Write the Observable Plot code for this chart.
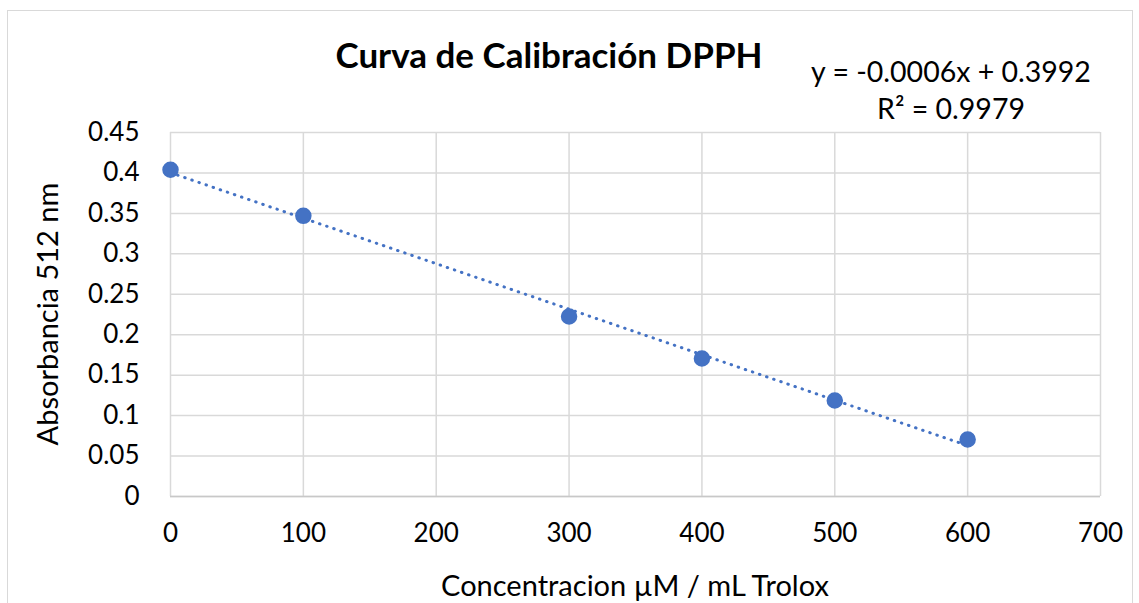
<!DOCTYPE html>
<html>
<head>
<meta charset="utf-8">
<script src="https://cdn.jsdelivr.net/npm/d3@7"></script>
<script src="https://cdn.jsdelivr.net/npm/@observablehq/plot@0.6"></script>
<style>
  html, body { margin: 0; padding: 0; background: #fff; }
  #chart { position: relative; width: 1139px; height: 603px; }
  #frame { position: absolute; left: 7px; top: 10px; width: 1126px; height: 600px; border: 1.5px solid #d9d9d9; box-sizing: border-box; pointer-events: none; }
</style>
</head>
<body>
<div id="chart"><div id="frame"></div></div>
<script>
const concentration = [0, 100, 300, 400, 500, 600];
const absorbance = [0.404, 0.347, 0.2225, 0.1706, 0.1187, 0.0705];
const xTicks = [0, 100, 200, 300, 400, 500, 600, 700];
const yTicks = [0, 0.05, 0.1, 0.15, 0.2, 0.25, 0.3, 0.35, 0.4, 0.45];
const titleText = "Curva de Calibración DPPH";
const equationLines = ["y = -0.0006x + 0.3992", "R² = 0.9979"];
const xLabel = "Concentracion µM / mL Trolox";
const yLabel = "Absorbancia 512 nm";

const data = concentration.map((x, i) => ({x, y: absorbance[i]}));
const blue = "#4472C4";
const grid = "#d9d9d9";
const font = "Lato, 'Open Sans', sans-serif";

const chart = Plot.plot({
  width: 1139,
  height: 603,
  marginLeft: 170,
  marginRight: 39,
  marginTop: 132,
  marginBottom: 107,
  style: {fontFamily: font, fontSize: "26px", color: "#000", background: "transparent"},
  x: {domain: [0, 700], ticks: xTicks, label: null},
  y: {domain: [0, 0.45], ticks: yTicks, label: null},
  marks: [
    Plot.gridX(xTicks, {stroke: grid, strokeOpacity: 1, strokeWidth: 1.5}),
    Plot.gridY(yTicks, {stroke: grid, strokeOpacity: 1, strokeWidth: 1.5}),
    Plot.ruleY([0], {stroke: "#c8c8c8", strokeWidth: 1.5}),
    Plot.axisX(xTicks, {tickSize: 0, tickPadding: 27, fontSize: 26, fill: "#000"}),
    Plot.axisY(yTicks, {tickSize: 0, tickPadding: 31, fontSize: 26, fill: "#000", tickFormat: d => String(+d.toFixed(2))}),
    Plot.linearRegressionY(data, {x: "x", y: "y", ci: 0, stroke: blue, strokeWidth: 3, strokeDasharray: "0.5,7", strokeLinecap: "round"}),
    Plot.dot(data, {x: "x", y: "y", r: 7.5, fill: blue, stroke: blue})
  ]
});
document.getElementById("chart").appendChild(chart);

const svg = d3.select(chart);
svg.style("position", "absolute").style("left", "0").style("top", "0");

function addText(txt, x, y, opts = {}) {
  const t = svg.append("text")
    .attr("x", x).attr("y", y)
    .attr("text-anchor", opts.anchor || "middle")
    .attr("dominant-baseline", "central")
    .attr("font-family", font)
    .attr("font-size", opts.size || 27)
    .attr("font-weight", opts.weight || "normal")
    .attr("fill", "#000")
    .text(txt);
  if (opts.rotate) t.attr("transform", `rotate(${opts.rotate},${x},${y})`);
  return t;
}
addText(titleText, 549, 54, {size: 35, weight: "bold"});
addText(equationLines[0], 951, 71, {size: 28.5});
addText(equationLines[1], 951, 108, {size: 28.5});
addText(xLabel, 635, 584, {size: 29});
addText(yLabel, 46, 314, {size: 29, rotate: -90});
</script>
</body>
</html>
